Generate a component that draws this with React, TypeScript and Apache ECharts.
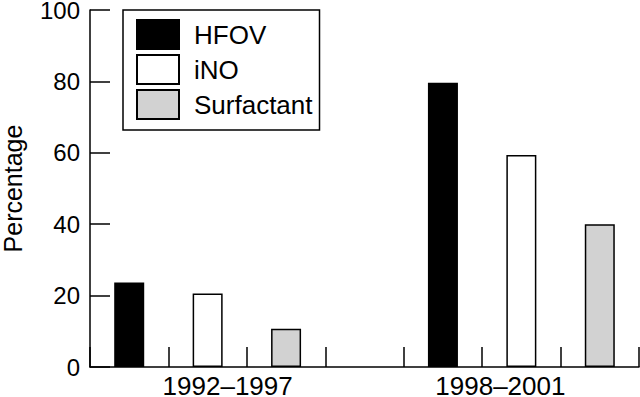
import React, { useEffect, useRef } from "react";
import * as echarts from "echarts";

const groups = ["1992–1997", "1998–2001"];
const seriesNames = ["HFOV", "iNO", "Surfactant"];
const hfov = [23.7, 79.6];
const ino = [20.6, 59.4];
const surfactant = [10.7, 40.0];
const yTicks = [0, 20, 40, 60, 80, 100];

const colors = ["#000000", "#ffffff", "#d2d2d2"];
const FONT = "Liberation Sans";

export default function App() {
  const ref = useRef<HTMLDivElement>(null);
  useEffect(() => {
    if (!ref.current) return;
    const chart = echarts.init(ref.current, null, { renderer: "svg" });
    const valuesBySeries = [hfov, ino, surfactant];
    const slots: any[] = [];
    const slotLabel: Record<string, string> = {};
    groups.forEach((g, gi) => {
      seriesNames.forEach((s, si) => {
        const id = `${gi}-${si}`;
        const item: any = { value: id };
        if (si === 1) {
          // group labels sit slightly toward the middle of the chart
          item.textStyle = { padding: gi === 0 ? [0, 0, 0, 40] : [0, 42, 0, 0] };
        }
        slots.push(item);
        slotLabel[id] = si === 1 ? g : "";
      });
      if (gi < groups.length - 1) {
        const id = `gap-${gi}`;
        slots.push({ value: id });
        slotLabel[id] = "";
      }
    });
    const series = seriesNames.map((name, si) => ({
      name,
      type: "bar",
      stack: "all",
      barWidth: 30,
      itemStyle: { color: colors[si], borderColor: "#000", borderWidth: 1.5 },
      data: slots.map((it) => {
        const [g, s] = String(it.value).split("-");
        if (g === "gap") return "-";
        return Number(s) === si ? valuesBySeries[si][Number(g)] : "-";
      }),
    }));
    chart.setOption({
      animation: false,
      textStyle: { fontFamily: FONT },
      grid: { left: 90, right: 1, top: 10, bottom: 30, containLabel: false, outerBoundsMode: "none" },
      legend: {
        orient: "vertical",
        left: 123,
        top: 10,
        data: seriesNames,
        icon: "rect",
        itemWidth: 42,
        itemHeight: 29,
        itemGap: 4,
        padding: [9, 7, 10, 13],
        borderColor: "#000",
        borderWidth: 1.5,
        backgroundColor: "#fff",
        selectedMode: false,
        textStyle: { fontFamily: FONT, fontSize: 26, lineHeight: 29, color: "#000", padding: [0, 0, 0, 10] },
      },
      xAxis: {
        type: "category",
        data: slots,
        boundaryGap: true,
        axisLine: { lineStyle: { color: "#000", width: 1.5 } },
        axisTick: { show: true, inside: true, length: 20, interval: 0, lineStyle: { color: "#000", width: 1.5 } },
        axisLabel: {
          interval: 0,
          margin: 6,
          fontSize: 26,
          color: "#000",
          fontFamily: FONT,
          formatter: (v: string) => slotLabel[v] || "",
        },
      },
      yAxis: {
        type: "value",
        min: 0,
        max: 100,
        interval: 20,
        name: "Percentage",
        nameLocation: "middle",
        nameGap: 65,
        nameTextStyle: { fontSize: 25, color: "#000", fontFamily: FONT },
        axisLine: { show: true, lineStyle: { color: "#000", width: 1.5 } },
        axisTick: { show: true, inside: true, length: 20, lineStyle: { color: "#000", width: 1.5 } },
        splitLine: { show: false },
        axisLabel: {
          margin: 10,
          fontSize: 24,
          color: "#000",
          fontFamily: FONT,
          formatter: (v: number) => (yTicks.includes(v) ? String(v) : ""),
        },
      },
      series,
    });
    return () => chart.dispose();
  }, []);
  return <div ref={ref} style={{ width: 640, height: 397, position: "absolute", left: 0, top: 0, background: "#fff" }} />;
}
